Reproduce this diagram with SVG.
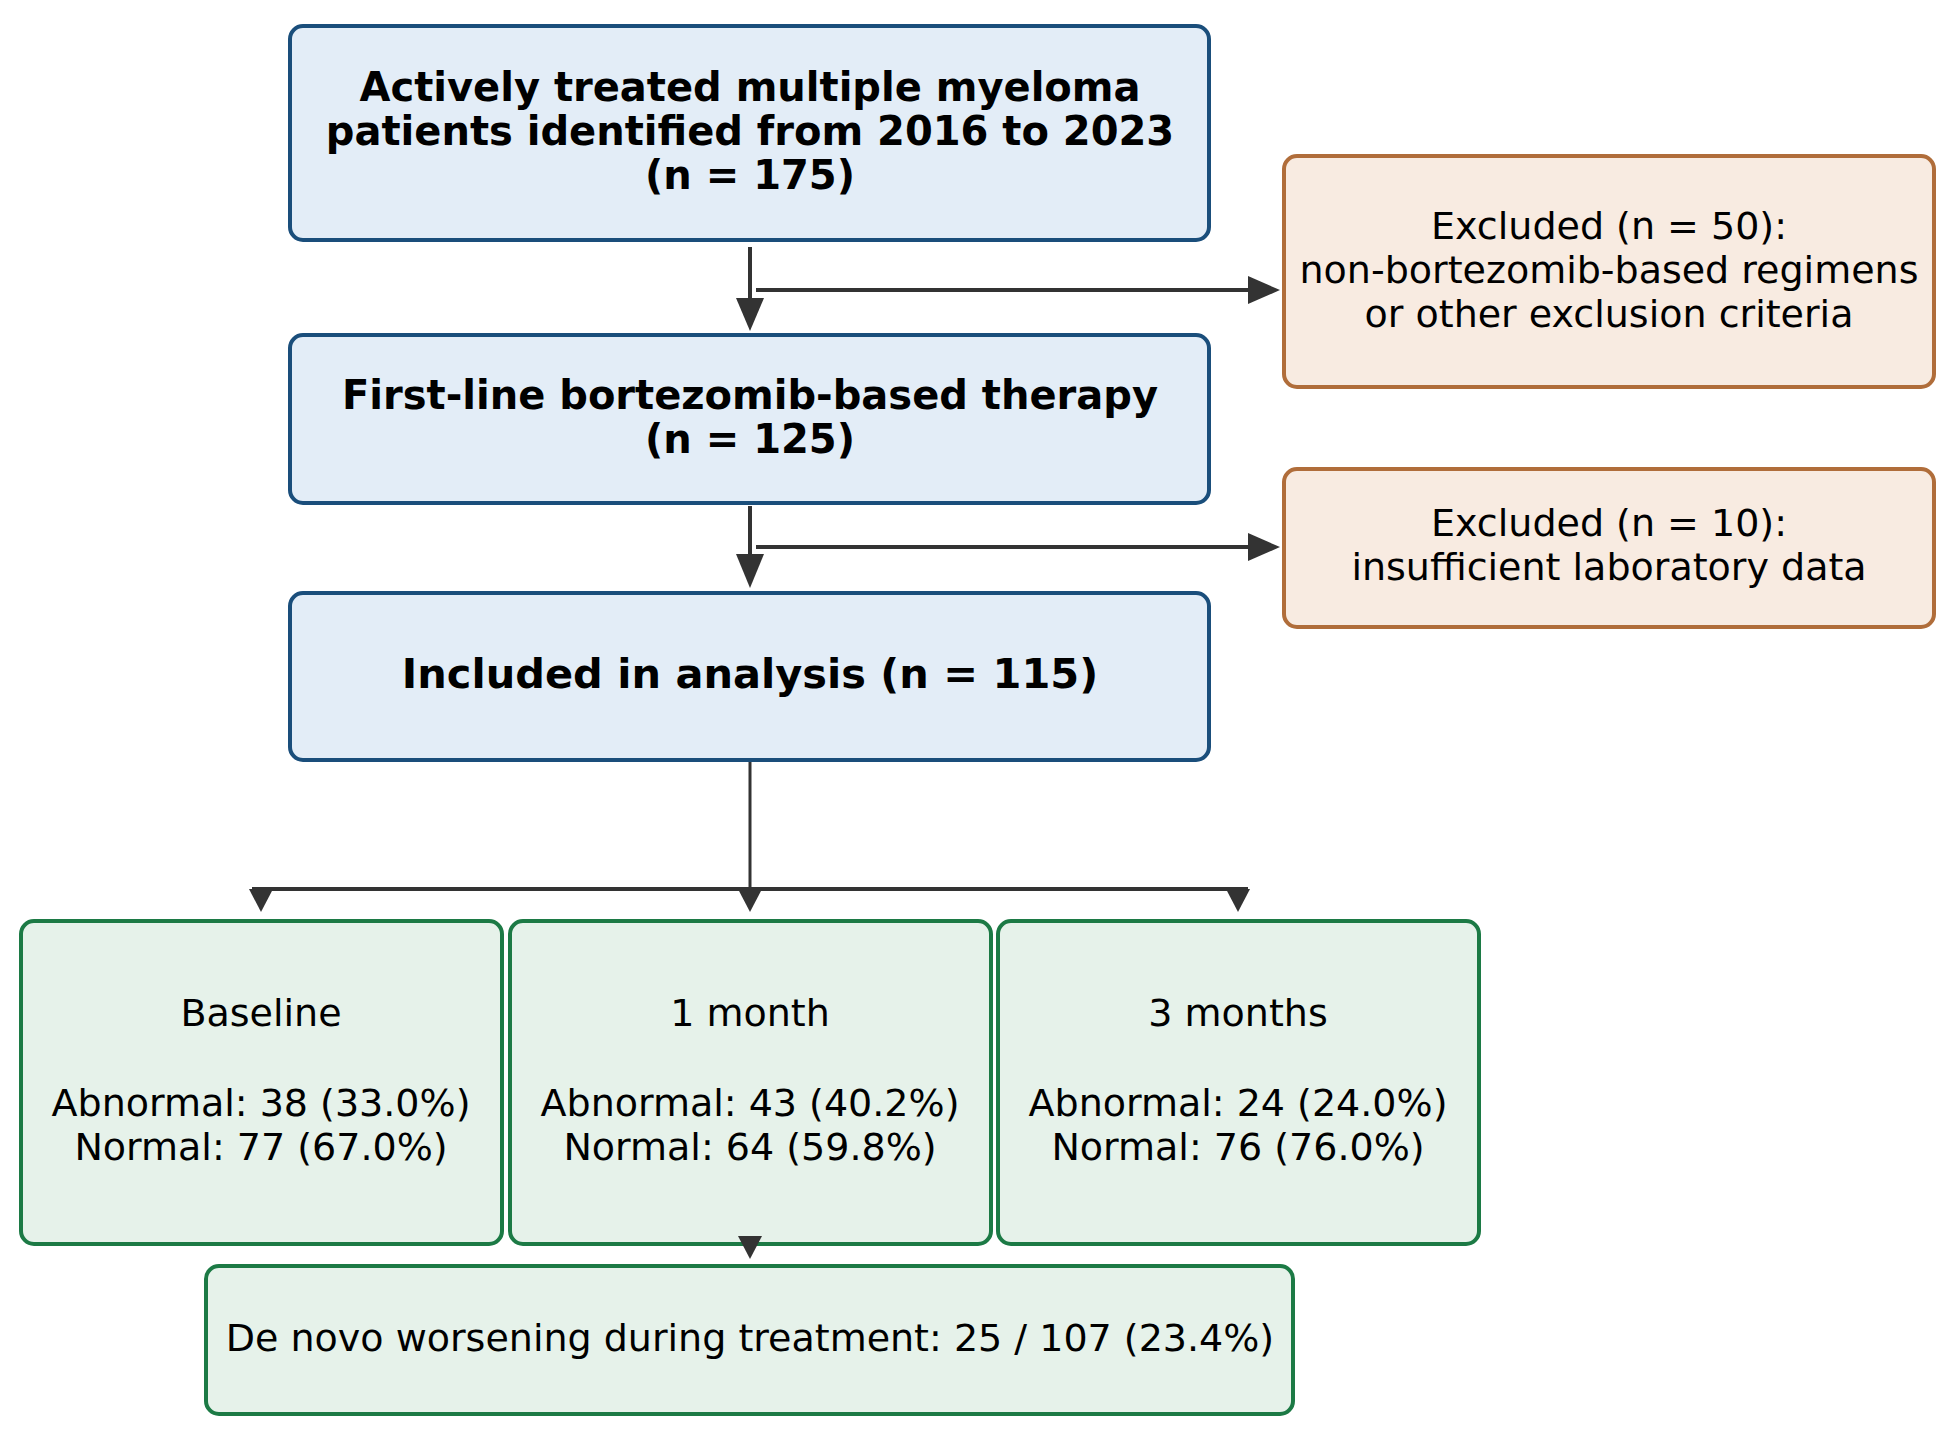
<svg xmlns="http://www.w3.org/2000/svg" width="1959" height="1434" viewBox="0 0 1959 1434">
<defs>
<style>
.blue{fill:#e3edf7;stroke:#1a4e7b;stroke-width:4}
.orange{fill:#f8ebe1;stroke:#b06d3a;stroke-width:4}
.green{fill:#e6f2ea;stroke:#1c7a45;stroke-width:4}
.tb{font-family:"DejaVu Sans",sans-serif;font-weight:bold;font-size:40px;fill:#000;text-anchor:middle}
.tr{font-family:"DejaVu Sans",sans-serif;font-size:38px;fill:#000;text-anchor:middle}
.ln{stroke:#333333;stroke-width:4;fill:none}
.hd{fill:#333333}
</style>
</defs>
<rect width="1959" height="1434" fill="#ffffff"/>
<g id="n1">
<rect class="blue" x="290" y="26" width="919" height="214" rx="13"/>
<text class="tb" x="750" y="101">Actively treated multiple myeloma</text>
<text class="tb" x="750" y="145">patients identified from 2016 to 2023</text>
<text class="tb" x="750" y="189">(n = 175)</text>
</g>
<g id="ex1">
<rect class="orange" x="1284" y="156" width="650" height="231" rx="13"/>
<text class="tr" x="1609" y="239">Excluded (n = 50):</text>
<text class="tr" x="1609" y="283">non-bortezomib-based regimens</text>
<text class="tr" x="1609" y="327">or other exclusion criteria</text>
</g>
<g id="n2">
<rect class="blue" x="290" y="335" width="919" height="168" rx="13"/>
<text class="tb" x="750" y="409">First-line bortezomib-based therapy</text>
<text class="tb" x="750" y="453">(n = 125)</text>
</g>
<g id="ex2">
<rect class="orange" x="1284" y="469" width="650" height="158" rx="13"/>
<text class="tr" x="1609" y="536">Excluded (n = 10):</text>
<text class="tr" x="1609" y="580">insufficient laboratory data</text>
</g>
<g id="n3">
<rect class="blue" x="290" y="593" width="919" height="167" rx="13"/>
<text class="tb" x="750" y="688" style="font-size:41.5px">Included in analysis (n = 115)</text>
</g>
<g id="baseline">
<rect class="green" x="21" y="921" width="481" height="323" rx="13"/>
<text class="tr" x="261" y="1026">Baseline</text>
<text class="tr" x="261" y="1116">Abnormal: 38 (33.0%)</text>
<text class="tr" x="261" y="1160">Normal: 77 (67.0%)</text>
</g>
<g id="m1">
<rect class="green" x="510" y="921" width="481" height="323" rx="13"/>
<text class="tr" x="750" y="1026">1 month</text>
<text class="tr" x="750" y="1116">Abnormal: 43 (40.2%)</text>
<text class="tr" x="750" y="1160">Normal: 64 (59.8%)</text>
</g>
<g id="m3">
<rect class="green" x="998" y="921" width="481" height="323" rx="13"/>
<text class="tr" x="1238" y="1026">3 months</text>
<text class="tr" x="1238" y="1116">Abnormal: 24 (24.0%)</text>
<text class="tr" x="1238" y="1160">Normal: 76 (76.0%)</text>
</g>
<g id="worsening">
<rect class="green" x="206" y="1266" width="1087" height="148" rx="13"/>
<text class="tr" x="750" y="1351">De novo worsening during treatment: 25 / 107 (23.4%)</text>
</g>
<g id="connectors">
<line class="ln" x1="750" y1="247" x2="750" y2="300"/>
<polygon class="hd" points="736,298 764,298 750,331"/>
<line class="ln" x1="756" y1="290" x2="1250" y2="290"/>
<polygon class="hd" points="1248,276 1248,304 1280,290"/>
<line class="ln" x1="750" y1="506" x2="750" y2="556"/>
<polygon class="hd" points="736,554 764,554 750,588"/>
<line class="ln" x1="756" y1="547" x2="1250" y2="547"/>
<polygon class="hd" points="1248,533 1248,561 1280,547"/>
<line class="ln" x1="750" y1="762" x2="750" y2="888" style="stroke-width:3"/>
<line class="ln" x1="252" y1="889" x2="1248" y2="889"/>
<polygon class="hd" points="249,889 273,889 261,912"/>
<polygon class="hd" points="738,889 762,889 750,912"/>
<polygon class="hd" points="1226,889 1250,889 1238,912"/>
<polygon class="hd" points="738,1236 762,1236 750,1259"/>
</g>
</svg>
